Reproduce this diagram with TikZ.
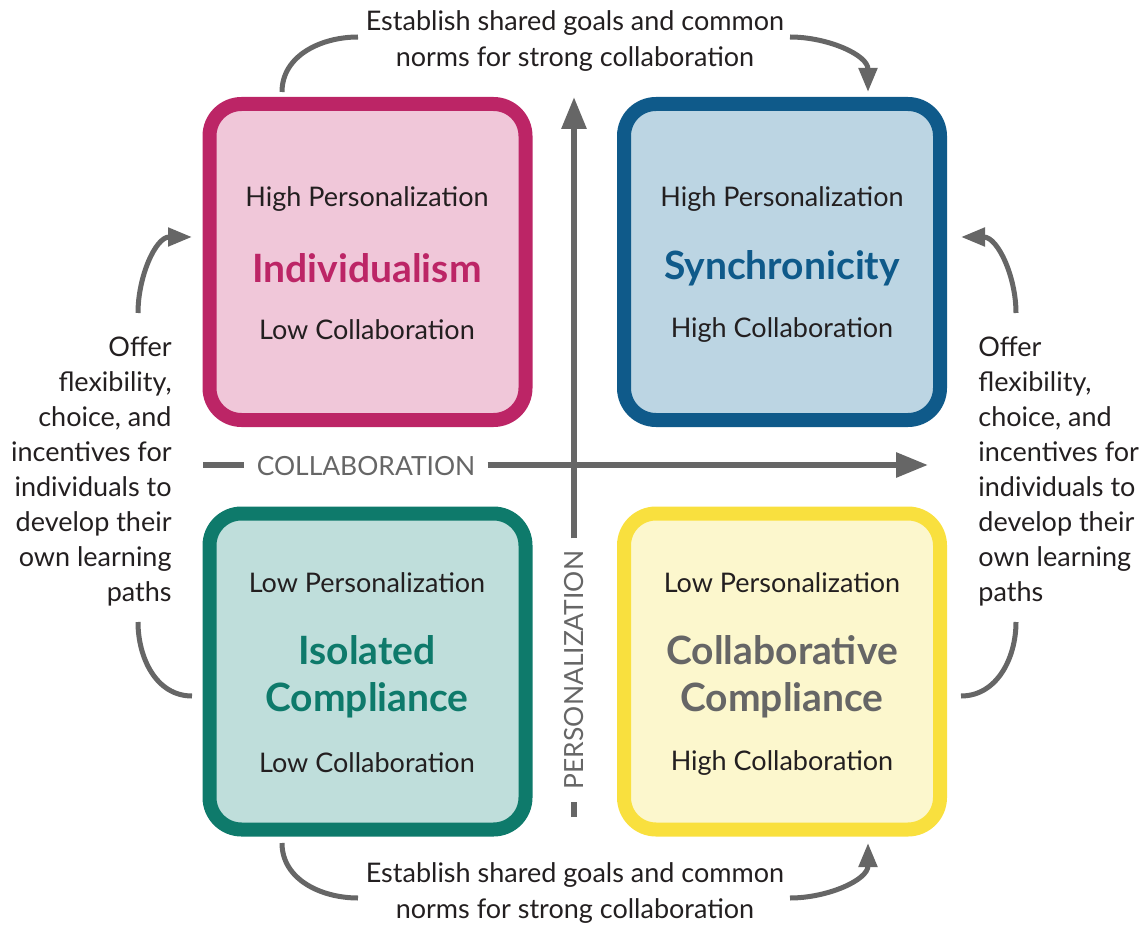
\documentclass[tikz,border=0pt]{standalone}
\usepackage{fontspec}
\setmainfont{Lato}
\usetikzlibrary{arrows.meta}
\definecolor{pinkline}{HTML}{BC2566}
\definecolor{pinkfill}{HTML}{F0C7D9}
\definecolor{blueline}{HTML}{0F5A8A}
\definecolor{bluefill}{HTML}{BCD5E3}
\definecolor{greenline}{HTML}{0E7A6B}
\definecolor{greenfill}{HTML}{BFDEDB}
\definecolor{yellowline}{HTML}{F9E03E}
\definecolor{yellowfill}{HTML}{FCF7CD}
\definecolor{axisgray}{HTML}{666666}
\definecolor{ink}{HTML}{231F20}
\newcommand{\quadsize}{158pt}
\tikzstyle{quad}=[draw, line width=7pt, rounded corners=16pt, minimum width=\quadsize, minimum height=\quadsize]
\tikzstyle{note}=[inner sep=0, align=center, text=ink, font=\fontsize{13.5}{17.5}\selectfont]
\tikzstyle{title}=[note, font=\bfseries\fontsize{19.5}{23.5}\selectfont]
\tikzstyle{axislabel}=[inner xsep=6pt, inner ysep=0, text=axisgray, font=\fontsize{13.2}{15}\selectfont]
\tikzstyle{axisline}=[draw=axisgray, line width=3pt]
\tikzstyle{axis}=[axisline, -{Triangle[length=16pt, width=12pt]}]
\tikzstyle{curve}=[draw=axisgray, line width=2.5pt]
\tikzstyle{curvearrow}=[curve, -{Triangle[length=12pt, width=9pt]}]

\begin{document}
\begin{tikzpicture}[x=0.5pt, y=-0.5pt]
        \useasboundingbox (0,0) rectangle (1141,925);
        % quadrants
        \node[quad, draw=pinkline, fill=pinkfill] (indiv) at (367.5, 262) {};
        \node[quad, draw=blueline, fill=bluefill] (sync) at (782, 262) {};
        \node[quad, draw=greenline, fill=greenfill] (isol) at (367.5, 671.5) {};
        \node[quad, draw=yellowline, fill=yellowfill] (collab) at (782, 671.5) {};
        \node[note] at (367, 199) {High Personalization};
        \node[title, text=pinkline] at (367, 268) {Individualism};
        \node[note] at (367, 330) {Low Collaboration};
        \node[note] at (782, 199) {High Personalization};
        \node[title, text=blueline] at (782, 268) {Synchronicity};
        \node[note] at (782, 330) {High Collaboration};
        \node[note] at (367, 583) {Low Personalization};
        \node[title, text=greenline] at (367, 677) {Isolated\\Compliance};
        \node[note] at (367, 763) {Low Collaboration};
        \node[note] at (782, 583) {Low Personalization};
        \node[title, text=axisgray] at (782, 677) {Collaborative\\Compliance};
        \node[note] at (782, 763) {High Collaboration};
        % axes
        \node[axislabel] (collabaxis) at (366, 466) {COLLABORATION};
        \node[axislabel, rotate=90] (persaxis) at (574, 670) {PERSONALIZATION};
        \coordinate (xstart) at (203, 465);
        \coordinate (xend) at (928, 465);
        \coordinate (ystart) at (574, 817);
        \coordinate (yend) at (574, 97);
        \draw[axisline] (xstart) -- (collabaxis.west |- xstart);
        \draw[axis] (collabaxis.east |- xstart) -- (xend);
        \draw[axisline] (ystart) -- (persaxis.west);
        \draw[axis] (persaxis.east) -- (yend);
        % notes round the quadrants
        \node[note, font=\fontsize{13.5}{18}\selectfont] (topnote) at (575, 41) {Establish shared goals and common\\norms for strong collaboration};
        \node[note, font=\fontsize{13.5}{18}\selectfont] (botnote) at (575, 893) {Establish shared goals and common\\norms for strong collaboration};
        \node[note, align=right, anchor=east] (leftnote) at (172, 471) {Offer\\flexibility,\\choice, and\\incentives for\\individuals to\\develop their\\own learning\\paths};
        \node[note, align=left, anchor=west] (rightnote) at (978, 471) {Offer\\flexibility,\\choice, and\\incentives for\\individuals to\\develop their\\own learning\\paths};
        \coordinate (tl1) at (282, 92);
        \coordinate (tl2) at (358, 37);
        \coordinate (tr1) at (790, 37);
        \coordinate (tr2) at (868, 92);
        \coordinate (bl1) at (282, 843);
        \coordinate (bl2) at (358, 898);
        \coordinate (br1) at (790, 898);
        \coordinate (br2) at (868, 843);
        \coordinate (lt1) at (138, 313);
        \coordinate (lt2) at (192, 237);
        \coordinate (lb1) at (138, 622);
        \coordinate (lb2) at (192, 696);
        \coordinate (rt1) at (1016, 313);
        \coordinate (rt2) at (961, 237);
        \coordinate (rb1) at (1016, 622);
        \coordinate (rb2) at (961, 696);
        \draw[curve] (tl1) to[out=90, in=180] (tl2);
        \draw[curvearrow] (tr1) to[out=0, in=90] (tr2);
        \draw[curve] (bl1) to[out=-90, in=180] (bl2);
        \draw[curvearrow] (br1) to[out=0, in=-90] (br2);
        \draw[curvearrow] (lt1) to[out=90, in=180] (lt2);
        \draw[curve] (lb1) to[out=-90, in=180] (lb2);
        \draw[curvearrow] (rt1) to[out=90, in=0] (rt2);
        \draw[curve] (rb1) to[out=-90, in=0] (rb2);
    \end{tikzpicture}
\end{document}
